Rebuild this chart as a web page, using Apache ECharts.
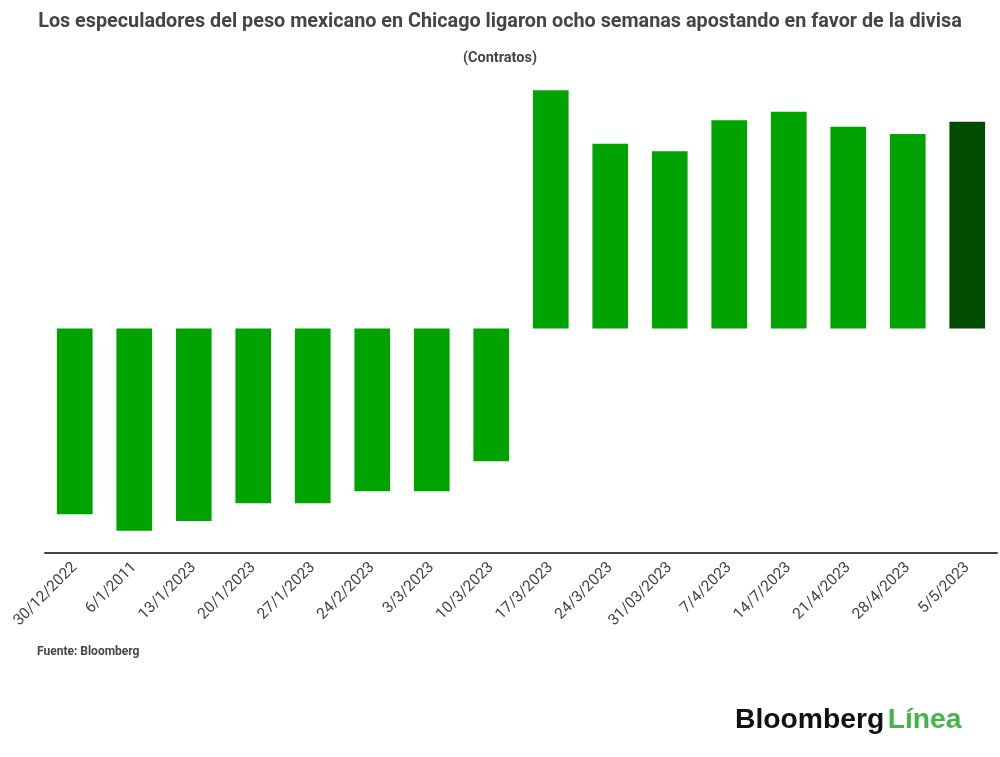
<!DOCTYPE html>
<html>
<head>
<meta charset="utf-8">
<script src="https://cdn.jsdelivr.net/npm/echarts@6/dist/echarts.min.js"></script>
<style>
html,body{margin:0;padding:0;background:#fff;}
#chart{width:1000px;height:757px;}
</style>
</head>
<body>
<div id="chart"></div>
<script>
var categories = ['30/12/2022','6/1/2011','13/1/2023','20/1/2023','27/1/2023','24/2/2023','3/3/2023','10/3/2023','17/3/2023','24/3/2023','31/03/2023','7/4/2023','14/7/2023','21/4/2023','28/4/2023','5/5/2023'];
var contracts = [-18580,-20220,-19250,-17480,-17480,-16280,-16280,-13280,23820,18480,17720,20820,21680,20180,19450,20680];
var highlightIndex = 15;

var chart = echarts.init(document.getElementById('chart'));
var barData = contracts.map(function(v, i){
  return {value: v, itemStyle: {color: i === highlightIndex ? '#014b01' : '#00a300'}};
});
chart.setOption({
  backgroundColor: '#ffffff',
  animation: false,
  title: [{
    text: 'Los especuladores del peso mexicano en Chicago ligaron ocho semanas apostando en favor de la divisa',
    left: 'center', top: 12, padding: 0,
    textStyle: {fontFamily: 'Roboto', fontWeight: 'bold', fontSize: 19.8, color: '#454545'}
  },{
    text: '(Contratos)',
    left: 'center', top: 51, padding: 0,
    textStyle: {fontFamily: 'Roboto', fontWeight: 'bold', fontSize: 14.5, color: '#454545'}
  },{
    text: 'Fuente: Bloomberg',
    left: 37, top: 646, padding: 0,
    textStyle: {fontFamily: 'Roboto', fontWeight: 'bold', fontSize: 12, color: '#454545'}
  }],
  graphic: [{
    type: 'text',
    left: 735, top: 706,
    style: {
      text: '{a|Bloomberg} {b|Línea}',
      rich: {
        a: {fontFamily: 'Liberation Sans', fontWeight: 'bold', fontSize: 28.3, fill: '#111111'},
        b: {fontFamily: 'Liberation Sans', fontWeight: 'bold', fontSize: 28.3, fill: '#43b549'}
      }
    }
  }],
  grid: {left: 45, right: 3, top: 80, bottom: 204, containLabel: false},
  xAxis: {
    type: 'category',
    data: categories,
    axisLine: {show: true, onZero: false, lineStyle: {color: '#444444', width: 2}},
    axisTick: {show: false},
    axisLabel: {rotate: 45, interval: 0, margin: 12, fontFamily: 'Roboto', fontSize: 15.5, color: '#444444'}
  },
  yAxis: {
    type: 'value',
    min: -22450, max: 24850,
    show: false,
    splitLine: {show: false}
  },
  series: [{
    type: 'bar',
    data: barData,
    barWidth: '60%'
  }]
});
</script>
</body>
</html>
